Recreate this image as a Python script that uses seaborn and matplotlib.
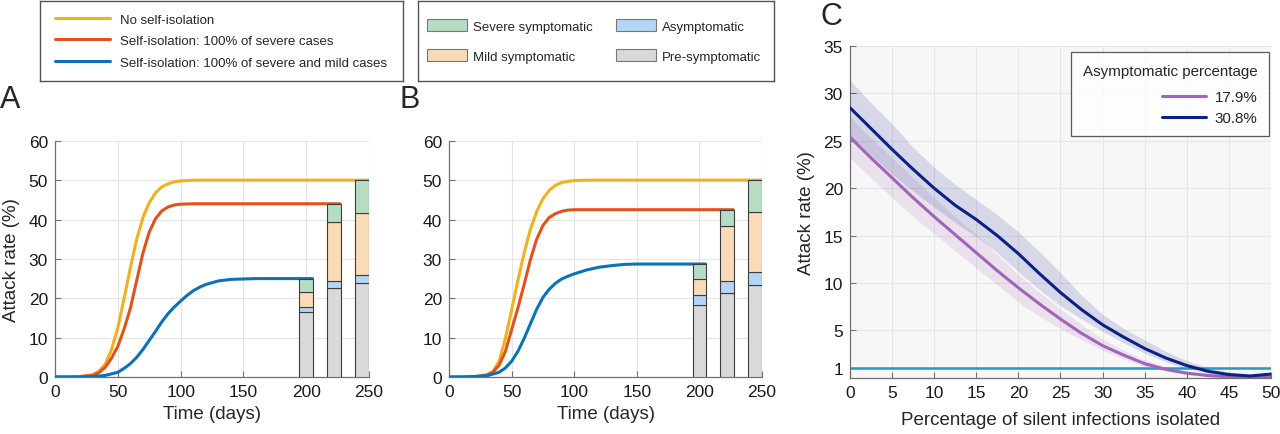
#! /usr/bin/env python3
'''
Attack rate under self-isolation scenarios (panels A, B) and
attack rate vs. share of silent infections isolated (panel C)
'''
# imports
import matplotlib
matplotlib.use("Agg")
import matplotlib.pyplot as plt
from matplotlib.lines import Line2D
from matplotlib.patches import Patch
import numpy as np
import pandas as pd
import seaborn as sns

# settings
sns.set_style("ticks")
plt.rcParams['font.family'] = ['Liberation Sans', 'DejaVu Sans']

# ---- data: panel A curves (days, attack rate %)
a_none_t = [0, 10, 20, 30, 35, 40, 45, 50, 55, 60, 65, 70, 75, 80, 85, 90, 95, 100, 110, 250]
a_none_y = [0, 0, 0.1, 0.6, 1.5, 3.3, 7.0, 12.5, 20.0, 27.8, 35.0, 40.5, 44.3, 46.8, 48.3, 49.1, 49.6, 49.8, 50.0, 50.0]
a_sev_t = [0, 10, 20, 30, 35, 40, 45, 50, 55, 60, 65, 70, 75, 80, 85, 90, 95, 100, 110, 227]
a_sev_y = [0, 0, 0.1, 0.4, 1.1, 2.5, 4.8, 7.8, 12.2, 17.5, 24.5, 31.5, 36.8, 40.2, 42.2, 43.2, 43.7, 43.9, 44.0, 44.0]
a_all_t = [0, 10, 20, 30, 40, 50, 55, 60, 65, 70, 75, 80, 85, 90, 95, 100, 105, 110, 115, 120, 130, 140, 150, 160, 205]
a_all_y = [0, 0, 0, 0.1, 0.4, 1.2, 2.2, 3.4, 5.0, 7.0, 9.3, 11.6, 14.0, 16.1, 17.8, 19.3, 20.7, 21.9, 22.8, 23.5, 24.4, 24.8, 24.9, 25.0, 25.0]

# panel B curves
b_none_t = [0, 10, 20, 30, 35, 40, 45, 50, 55, 60, 65, 70, 75, 80, 85, 90, 95, 100, 110, 250]
b_none_y = [0, 0, 0.1, 0.6, 1.4, 4.0, 9.8, 17.0, 24.5, 31.5, 37.5, 42.0, 45.3, 47.4, 48.7, 49.4, 49.7, 49.9, 50.0, 50.0]
b_sev_t = [0, 10, 20, 30, 35, 40, 45, 50, 55, 60, 65, 70, 75, 80, 85, 90, 95, 100, 110, 227]
b_sev_y = [0, 0, 0.1, 0.4, 1.2, 3.0, 6.5, 12.0, 17.5, 23.5, 29.8, 35.0, 38.5, 40.5, 41.5, 42.1, 42.4, 42.5, 42.5, 42.5]
b_all_t = [0, 10, 20, 30, 40, 45, 50, 55, 60, 65, 70, 75, 80, 85, 90, 95, 100, 110, 120, 130, 140, 150, 205]
b_all_y = [0, 0, 0.1, 0.3, 1.2, 2.3, 4.0, 6.5, 9.8, 13.5, 17.2, 20.2, 22.3, 23.8, 24.9, 25.6, 26.2, 27.2, 27.9, 28.3, 28.6, 28.7, 28.7]

# stacked bars (order of scenarios: all cases, severe only, none)
bar_days = [200, 222, 244.5]
a_pre = [16.5, 22.7, 24.0]
a_asym = [1.3, 1.6, 1.8]
a_mild = [3.8, 15.1, 15.8]
a_severe = [3.4, 4.6, 8.4]
b_pre = [18.2, 21.3, 23.4]
b_asym = [2.7, 3.0, 3.4]
b_mild = [4.1, 14.1, 15.2]
b_severe = [3.7, 4.1, 8.0]

# ---- data: panel C
c_iso = [0, 2.5, 5, 7.5, 10, 12.5, 15, 17.5, 20, 22.5, 25, 27.5, 30, 32.5, 35, 37.5, 40, 42.5, 45, 47.5, 50]
c_179 = [25.4, 23.2, 21.1, 19.0, 17.0, 15.1, 13.2, 11.3, 9.5, 7.8, 6.2, 4.7, 3.4, 2.4, 1.5, 0.9, 0.5, 0.25, 0.12, 0.06, 0.05]
c_308 = [28.5, 26.3, 24.1, 22.0, 20.0, 18.2, 16.7, 15.0, 13.1, 11.0, 9.0, 7.2, 5.6, 4.3, 3.1, 2.1, 1.3, 0.7, 0.35, 0.2, 0.4]
c_179_lo = [23.2, 21.1, 19.0, 17.0, 15.2, 13.4, 11.6, 9.8, 8.0, 6.5, 5.2, 4.0, 2.9, 2.0, 1.2, 0.7, 0.3, 0.15, 0.05, 0.03, 0.02]
c_179_hi = [27.5, 25.3, 23.2, 21.1, 19.0, 17.0, 15.1, 13.0, 10.9, 9.0, 7.3, 5.6, 4.1, 2.9, 1.9, 1.2, 0.7, 0.4, 0.2, 0.12, 0.1]
c_308_lo = [25.6, 23.5, 21.5, 19.7, 18.0, 16.4, 14.9, 13.2, 11.2, 9.3, 7.6, 6.2, 4.9, 3.7, 2.6, 1.7, 1.0, 0.5, 0.2, 0.1, 0.3]
c_308_hi = [31.4, 29.0, 26.8, 24.3, 22.2, 20.4, 18.8, 17.2, 15.4, 13.3, 11.1, 8.7, 6.7, 5.2, 4.0, 2.8, 1.8, 1.1, 0.6, 0.4, 0.5]
threshold = 1

# colours
c_none, c_sev, c_all = '#F2B11C', '#E4521B', '#0B72BA'
col_severe, col_mild, col_asym, col_pre = '#B6DCC3', '#F9DBB7', '#B4D6F4', '#D9D9D9'
col_p, col_b, col_thr = '#A065B8', '#0E1F86', '#2499B9'
spine_col = '#707070'

fig = plt.figure(figsize=(12.8, 4.35), dpi=100)


def style_axes(ax):
    for s in ['top', 'right']:
        ax.spines[s].set_visible(False)
    for s in ['left', 'bottom']:
        ax.spines[s].set_color(spine_col)
        ax.spines[s].set_linewidth(0.9)
    ax.tick_params(direction='in', length=4, color=spine_col, labelsize=12.5,
                   labelcolor='#1a1a1a', pad=5)
    ax.grid(True, color='#e4e4e4', linewidth=0.8)
    ax.set_axisbelow(True)


def epidemic_panel(ax, curves, pre, asym, mild, severe):
    for t, y, c in curves:
        sns.lineplot(x=t, y=y, ax=ax, color=c, linewidth=2.2, zorder=3)
    bottom = np.zeros(len(bar_days))
    for vals, c in [(pre, col_pre), (asym, col_asym), (mild, col_mild), (severe, col_severe)]:
        ax.bar(bar_days, vals, bottom=bottom, width=11, color=c,
               edgecolor='#3c3c3c', linewidth=0.8, zorder=4)
        bottom = bottom + np.array(vals)
    ax.set_xlim(0, 250)
    ax.set_ylim(0, 60)
    ax.set_xticks(np.arange(0, 251, 50))
    ax.set_yticks(np.arange(0, 61, 10))
    ax.set_xlabel("Time (days)", fontsize=13.5, labelpad=4)
    style_axes(ax)


# panel A
axA = fig.add_axes([0.043, 0.131, 0.2453, 0.543])
epidemic_panel(axA, [(a_none_t, a_none_y, c_none), (a_sev_t, a_sev_y, c_sev), (a_all_t, a_all_y, c_all)],
               a_pre, a_asym, a_mild, a_severe)
axA.set_ylabel("Attack rate (%)", fontsize=13.5, labelpad=6)

# panel B
axB = fig.add_axes([0.3508, 0.131, 0.2445, 0.543])
epidemic_panel(axB, [(b_none_t, b_none_y, c_none), (b_sev_t, b_sev_y, c_sev), (b_all_t, b_all_y, c_all)],
               b_pre, b_asym, b_mild, b_severe)
axB.set_ylabel("")

# panel C
axC = fig.add_axes([0.664, 0.129, 0.329, 0.763])
axC.set_facecolor('#f7f7f7')
axC.fill_between(c_iso, c_179_lo, c_179_hi, color=col_p, alpha=0.15, linewidth=0)
axC.fill_between(c_iso, c_308_lo, c_308_hi, color=col_b, alpha=0.14, linewidth=0)
axC.axhline(threshold, color=col_thr, linewidth=1.8, zorder=2)
df_c = pd.DataFrame({'iso': c_iso * 2, 'rate': c_179 + c_308,
                     'group': ['17.9%'] * len(c_iso) + ['30.8%'] * len(c_iso)})
sns.lineplot(data=df_c, x='iso', y='rate', hue='group', palette=[col_p, col_b],
             linewidth=2.2, ax=axC, zorder=3)
axC.set_xlim(0, 50)
axC.set_ylim(0, 35)
axC.set_xticks(np.arange(0, 51, 5))
axC.set_yticks([1, 5, 10, 15, 20, 25, 30, 35])
axC.set_xlabel("Percentage of silent infections isolated", fontsize=13.5, labelpad=8)
axC.set_ylabel("Attack rate (%)", fontsize=13.5, labelpad=6)
style_axes(axC)
axC.grid(True, color='#e6e6e6', linewidth=0.8)
legC = axC.legend(title="Asymptomatic percentage", loc='upper right', alignment='right',
                  fontsize=10.9, title_fontsize=10.9, frameon=True, fancybox=False,
                  handlelength=2.9, handletextpad=0.55, borderaxespad=0.15,
                  bbox_to_anchor=(1.0, 0.988), borderpad=0.75, labelspacing=0.45)
legC._legend_box.sep = 9
legC.get_frame().set_edgecolor('#333333')
legC.get_frame().set_linewidth(0.9)
legC.get_frame().set_facecolor('white')

# legend box for scenarios
axL1 = fig.add_axes([0.03125, 0.8115, 0.2836, 0.184])
axL1.set_xticks([])
axL1.set_yticks([])
for s in axL1.spines.values():
    s.set_color('#555555')
    s.set_linewidth(1.0)
line_handles = [Line2D([0], [0], color=c_none, lw=2.2),
                Line2D([0], [0], color=c_sev, lw=2.2),
                Line2D([0], [0], color=c_all, lw=2.2)]
axL1.legend(line_handles, ["No self-isolation", "Self-isolation: 100% of severe cases",
                           "Self-isolation: 100% of severe and mild cases"],
            loc='center left', bbox_to_anchor=(0, 0.5), frameon=False, fontsize=9.5,
            handlelength=4.2, handletextpad=0.7, labelspacing=0.7, borderaxespad=0.73)

# legend box for bar composition
axL2 = fig.add_axes([0.3266, 0.8115, 0.2781, 0.184])
axL2.set_xticks([])
axL2.set_yticks([])
for s in axL2.spines.values():
    s.set_color('#555555')
    s.set_linewidth(1.0)
patch_handles = [Patch(facecolor=col_severe, edgecolor='#777777', lw=0.8),
                 Patch(facecolor=col_mild, edgecolor='#777777', lw=0.8),
                 Patch(facecolor=col_asym, edgecolor='#777777', lw=0.8),
                 Patch(facecolor=col_pre, edgecolor='#777777', lw=0.8)]
axL2.legend(patch_handles, ["Severe symptomatic", "Mild symptomatic", "Asymptomatic", "Pre-symptomatic"],
            ncol=2, loc='center left', bbox_to_anchor=(0, 0.5), frameon=False, fontsize=9.5,
            handlelength=3.0, handleheight=1.0, handletextpad=0.45, labelspacing=1.27,
            columnspacing=1.8, borderaxespad=0.28)

# panel letters
fig.text(0.0, 0.77, "A", fontsize=22, va='center', ha='left')
fig.text(0.312, 0.77, "B", fontsize=22, va='center', ha='left')
fig.text(0.641, 0.96, "C", fontsize=22, va='center', ha='left')

fig.savefig('out.png', dpi=100)
plt.close()
